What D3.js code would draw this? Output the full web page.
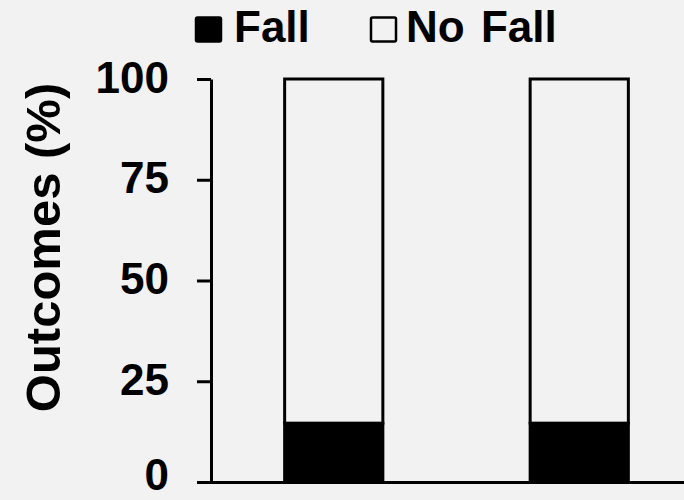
<!DOCTYPE html>
<html>
<head>
<meta charset="utf-8">
<script src="https://cdn.jsdelivr.net/npm/d3@7"></script>
<style>
  html, body { margin: 0; padding: 0; background: #f2f2f2; }
  svg { display: block; }
  text { font-family: "Liberation Sans", Arial, sans-serif; font-weight: bold; fill: #000; }
</style>
</head>
<body>
<script>
const categories = ["Group 1", "Group 2"];
const fallValues = [14.6, 14.6];
const noFallValues = [85.4, 85.4];
const seriesNames = ["Fall", "No Fall"];
const yTicks = [0, 25, 50, 75, 100];

const W = 684, H = 500;
const svg = d3.select("body").append("svg").attr("width", W).attr("height", H);
svg.append("rect").attr("width", W).attr("height", H).attr("fill", "#f2f2f2");

const y = d3.scaleLinear().domain([0, 100]).range([482, 79]);
const x = d3.scaleBand().domain(categories).range([211, 702]).paddingInner(0.6).paddingOuter(0.3);

const rows = categories.map((c, i) => ({ cat: c, Fall: fallValues[i], "No Fall": noFallValues[i] }));
const stack = d3.stack().keys(seriesNames)(rows);
const fills = { "Fall": "#000", "No Fall": "#f2f2f2" };

stack.forEach(layer => {
  svg.append("g").selectAll("rect").data(layer).join("rect")
    .attr("x", d => x(d.data.cat))
    .attr("y", d => y(d[1]))
    .attr("width", x.bandwidth())
    .attr("height", d => y(d[0]) - y(d[1]))
    .attr("fill", fills[layer.key])
    .attr("stroke", "#000")
    .attr("stroke-width", 3);
});

// Y axis
const yAxis = svg.append("g").attr("transform", "translate(211,0)")
  .call(d3.axisLeft(y).tickValues(yTicks).tickSize(14).tickPadding(28).tickSizeOuter(0));
yAxis.select(".domain").attr("stroke", "#000").attr("stroke-width", 3);
yAxis.selectAll(".tick line").attr("stroke", "#000").attr("stroke-width", 3);
yAxis.selectAll(".tick text").style("font-size", "44px").attr("dy", null)
  .attr("y", d => d === 0 ? 7 : 13);

// X axis
const xAxis = svg.append("g").attr("transform", "translate(0,482)")
  .call(d3.axisBottom(x).tickSize(0).tickFormat(() => "").tickSizeOuter(0));
xAxis.select(".domain").attr("stroke", "#000").attr("stroke-width", 3)
  .attr("d", `M209.5,0.5H${W}`);

// Y title
svg.append("text")
  .attr("transform", "translate(60,247.5) rotate(-90)")
  .attr("text-anchor", "middle")
  .style("font-size", "49px")
  .text("Outcomes (%)");

// Legend
const legend = svg.append("g");
const legendItems = [
  { name: seriesNames[0], sx: 196, tx: 234 },
  { name: seriesNames[1], sx: 371, tx: 406 }
];
legendItems.forEach(it => {
  legend.append("rect").attr("x", it.sx).attr("y", 17.5).attr("width", 25).attr("height", 24)
    .attr("fill", fills[it.name]).attr("stroke", "#000").attr("stroke-width", 2.5).attr("rx", 1.5);
  legend.append("text").attr("x", it.tx).attr("y", 42).style("font-size", "44px")
    .style("word-spacing", "4px").text(it.name);
});
</script>
</body>
</html>
